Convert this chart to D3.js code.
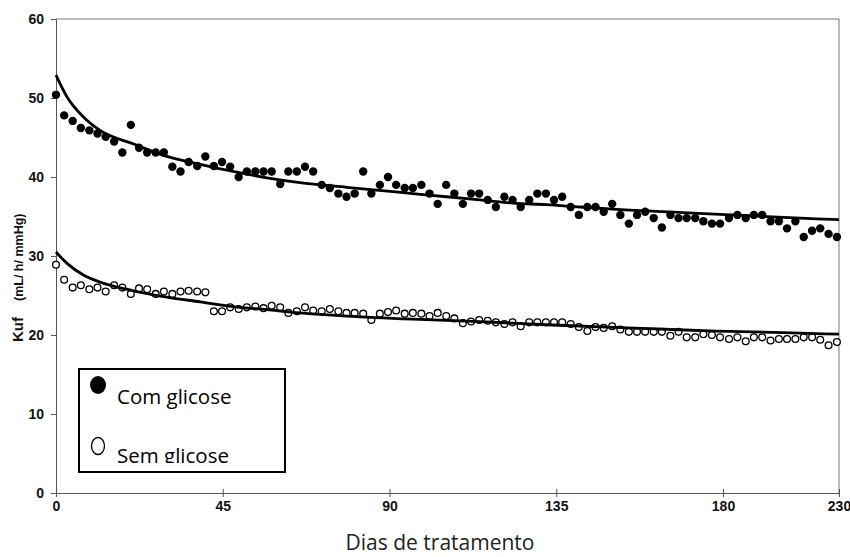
<!DOCTYPE html>
<html>
<head>
<meta charset="utf-8">
<script src="https://cdn.jsdelivr.net/npm/d3@7"></script>
<style>
  body { margin: 0; background: #fff; }
  svg { display: block; }
</style>
</head>
<body>
<svg id="chart"></svg>
<script>
// measurement days (one point per session)
const days = [
  0, 2.2, 4.5, 6.7, 9.0, 11.2, 13.4, 15.7, 17.9, 20.2, 22.4, 24.6, 26.9, 29.1, 31.4, 33.6,
  35.8, 38.1, 40.3, 42.6, 44.8, 47.0, 49.3, 51.5, 53.8, 56.0, 58.2, 60.5, 62.7, 65.0, 67.2,
  69.4, 71.7, 73.9, 76.2, 78.4, 80.6, 82.9, 85.1, 87.4, 89.6, 91.8, 94.1, 96.3, 98.6, 100.8,
  103.0, 105.3, 107.5, 109.8, 112.0, 114.2, 116.5, 118.7, 121.0, 123.2, 125.4, 127.7, 129.9,
  132.2, 134.4, 136.6, 138.9, 141.1, 143.4, 145.6, 147.8, 150.1, 152.3, 154.6, 156.8, 159.0,
  161.3, 163.5, 165.8, 168.0, 170.2, 172.5, 174.7, 177.0, 179.2, 182.6, 186.2, 189.8, 193.3,
  196.9, 200.5, 204.1, 207.6, 211.2, 214.8, 218.4, 221.9, 225.5, 229.1
];

// Kuf com glicose (filled points)
const comGlicose = [
  50.4, 47.8, 47.1, 46.2, 45.9, 45.5, 45.1, 44.5, 43.1, 46.6, 43.7, 43.1, 43.1, 43.1, 41.3, 40.7,
  41.9, 41.4, 42.6, 41.4, 41.9, 41.3, 40.0, 40.7, 40.7, 40.7, 40.7, 39.1, 40.7, 40.7, 41.3,
  40.7, 39.0, 38.6, 37.9, 37.5, 37.9, 40.7, 37.9, 39.0, 40.0, 39.0, 38.6, 38.6, 39.0, 37.9,
  36.6, 39.0, 37.9, 36.6, 37.9, 37.9, 37.1, 36.2, 37.5, 37.1, 36.2, 37.1, 37.9, 37.9, 37.1,
  37.5, 36.2, 35.2, 36.2, 36.2, 35.6, 36.6, 35.2, 34.1, 35.2, 35.6, 34.8, 33.6, 35.2, 34.8,
  34.8, 34.8, 34.4, 34.1, 34.1, 34.8, 35.2, 34.8, 35.2, 35.2, 34.4, 34.4, 33.5, 34.4, 32.4,
  33.2, 33.5, 32.8, 32.4
];

// Kuf sem glicose (open points)
const semGlicose = [
  28.9, 27.0, 26.0, 26.3, 25.8, 26.0, 25.5, 26.3, 26.0, 25.2, 25.9, 25.8, 25.2, 25.5, 25.2, 25.5,
  25.6, 25.5, 25.4, 23.0, 23.0, 23.5, 23.3, 23.5, 23.6, 23.4, 23.7, 23.5, 22.8, 23.0, 23.5,
  23.1, 23.0, 23.3, 23.0, 22.8, 22.8, 22.7, 21.9, 22.7, 22.9, 23.1, 22.7, 22.8, 22.7, 22.4,
  22.8, 22.4, 22.1, 21.5, 21.7, 21.9, 21.8, 21.6, 21.4, 21.6, 21.1, 21.6, 21.6, 21.6, 21.6,
  21.6, 21.4, 21.0, 20.5, 21.0, 20.9, 21.1, 20.7, 20.4, 20.4, 20.4, 20.4, 20.4, 19.9, 20.4,
  19.7, 19.7, 20.1, 20.0, 19.7, 19.5, 19.7, 19.2, 19.7, 19.7, 19.3, 19.5, 19.5, 19.5, 19.7,
  19.7, 19.4, 18.7, 19.1
];

// fitted trend curves
const fitComDays = [0, 2.9, 7.4, 11.9, 20.8, 29.9, 38.9, 47.8, 56.9, 65.8, 78.4, 96.3, 105.4, 114.4, 123.3, 132.4, 141.4, 151.3, 169.2, 191.6, 220.4, 230];
const fitCom = [52.9, 50.2, 47.6, 45.9, 44.2, 42.6, 41.6, 40.7, 39.9, 39.3, 38.7, 37.9, 37.5, 37.1, 36.7, 36.5, 36.2, 35.9, 35.5, 35.1, 34.7, 34.6];
const fitSemDays = [0, 2.9, 7.4, 11.9, 20.9, 29.9, 38.9, 47.8, 56.9, 65.8, 78.4, 96.3, 114.4, 132.4, 160.3, 178.2, 205.9, 230];
const fitSem = [30.5, 29.1, 27.6, 26.7, 25.6, 24.8, 24.2, 23.6, 23.2, 22.8, 22.4, 22.0, 21.7, 21.3, 20.8, 20.5, 20.3, 20.1];

// axis ticks and labels
const xTicks = [0, 45, 90, 135, 180, 230];
const yTicks = [0, 10, 20, 30, 40, 50, 60];
const legendLabels = ["Com glicose", "Sem glicose"];
const xTitle = "Dias de tratamento";
const yTitleMain = "Kuf";
const yTitleUnit = "(mL/ h/ mmHg)";

const width = 850, height = 557;
const plot = { left: 56, right: 839, top: 19, bottom: 493 };

const svg = d3.select("#chart")
  .attr("width", width)
  .attr("height", height)
  .style("font-family", "'Liberation Sans', Arial, sans-serif");

// the last stretch of the original axis (180 -> 230) is compressed
const x = d3.scaleLinear()
  .domain([0, 180, 230])
  .range([plot.left, 723, plot.right]);

const y = d3.scaleLinear()
  .domain([0, 60])
  .range([plot.bottom, plot.top]);

// frame (top and right edge)
svg.append("path")
  .attr("d", `M${plot.left},${plot.top}H${plot.right}V${plot.bottom}`)
  .attr("fill", "none")
  .attr("stroke", "#777")
  .attr("stroke-width", 1);

// Y axis
svg.append("g")
  .attr("transform", `translate(${plot.left},0)`)
  .call(d3.axisLeft(y).tickValues(yTicks).tickSize(5).tickPadding(7))
  .call(g => g.select(".domain").attr("stroke", "#555"))
  .call(g => g.selectAll(".tick line").attr("stroke", "#555"))
  .call(g => g.selectAll("text")
    .attr("font-size", 14)
    .attr("font-weight", "bold")
    .attr("fill", "#111"));

// X axis, ticks cross the axis line
svg.append("g")
  .attr("transform", `translate(0,${plot.bottom})`)
  .call(d3.axisBottom(x).tickValues(xTicks).tickFormat(d3.format("d")).tickSize(4).tickPadding(4))
  .call(g => g.select(".domain").attr("stroke", "#555"))
  .call(g => g.selectAll(".tick line").attr("y1", -4).attr("stroke", "#555"))
  .call(g => g.selectAll("text")
    .attr("font-size", 14)
    .attr("font-weight", "bold")
    .attr("fill", "#111"));

// axis titles
const yt = svg.append("text")
  .attr("transform", "translate(23,342) rotate(-90)")
  .attr("font-weight", "bold")
  .attr("fill", "#111");
yt.append("tspan").attr("font-size", 15).text(yTitleMain);
yt.append("tspan").attr("dx", 16).attr("font-size", 12.5).text(yTitleUnit);

svg.append("text")
  .attr("x", 440)
  .attr("y", 550)
  .attr("text-anchor", "middle")
  .attr("font-family", "'Open Sans', sans-serif")
  .attr("font-size", 21)
  .attr("fill", "#222")
  .text(xTitle);

// data points
const filled = days.map((d, i) => ({ day: d, value: comGlicose[i] }));
const open = days.map((d, i) => ({ day: d, value: semGlicose[i] }));

svg.append("g").selectAll("circle")
  .data(filled)
  .join("circle")
  .attr("cx", d => x(d.day))
  .attr("cy", d => y(d.value))
  .attr("r", 4.2)
  .attr("fill", "#000");

svg.append("g").selectAll("circle")
  .data(open)
  .join("circle")
  .attr("cx", d => x(d.day))
  .attr("cy", d => y(d.value))
  .attr("r", 3.4)
  .attr("fill", "#fff")
  .attr("stroke", "#000")
  .attr("stroke-width", 1.3);

// trend lines
const line = d3.line()
  .x(d => x(d[0]))
  .y(d => y(d[1]))
  .curve(d3.curveMonotoneX);

[[fitComDays, fitCom], [fitSemDays, fitSem]].forEach(([ds, vs]) => {
  svg.append("path")
    .datum(ds.map((d, i) => [d, vs[i]]))
    .attr("fill", "none")
    .attr("stroke", "#000")
    .attr("stroke-width", 2.8)
    .attr("stroke-linejoin", "round")
    .attr("d", line);
});

// legend box
const legend = svg.append("g");
legend.append("rect")
  .attr("x", 79).attr("y", 369)
  .attr("width", 206).attr("height", 103)
  .attr("fill", "#fff")
  .attr("stroke", "#000")
  .attr("stroke-width", 2);

// text box clips the lower label, like the original
svg.append("clipPath").attr("id", "legend-clip")
  .append("rect").attr("x", 80).attr("y", 370).attr("width", 204).attr("height", 93);

legend.append("ellipse")
  .attr("cx", 98).attr("cy", 385).attr("rx", 8).attr("ry", 9)
  .attr("fill", "#000");
legend.append("ellipse")
  .attr("cx", 98).attr("cy", 446).attr("rx", 6.5).attr("ry", 8.5)
  .attr("fill", "none").attr("stroke", "#000").attr("stroke-width", 1.3);

legend.append("g").attr("clip-path", "url(#legend-clip)")
  .selectAll("text")
  .data(legendLabels)
  .join("text")
  .attr("x", 117)
  .attr("y", (d, i) => 404 + i * 59)
  .attr("font-family", "'Open Sans', sans-serif")
  .attr("font-size", 20.5)
  .attr("fill", "#000")
  .text(d => d);
</script>
</body>
</html>
